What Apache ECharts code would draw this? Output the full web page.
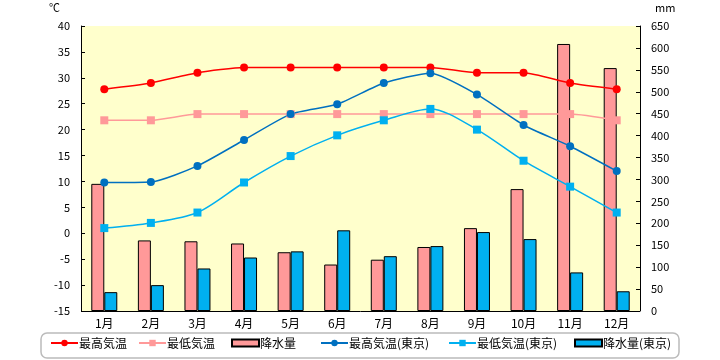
<!DOCTYPE html>
<html><head><meta charset="utf-8">
<script src="https://cdn.jsdelivr.net/npm/echarts@6/dist/echarts.min.js"></script>
<style>html,body{margin:0;padding:0;background:#fff}#c{width:720px;height:360px}</style>
</head><body><div id="c"></div>
<script>
const months = ['1月','2月','3月','4月','5月','6月','7月','8月','9月','10月','11月','12月'];
const highTemp = [27.8, 29, 31, 32, 32, 32, 32, 32, 31, 31, 29, 27.8];
const lowTemp = [21.8, 21.8, 23, 23, 23, 23, 23, 23, 23, 23, 23, 21.8];
const rain = [290, 161, 159, 154, 134, 106, 117, 146, 189, 278, 609, 554];
const highTokyo = [9.8, 9.9, 13, 18, 23, 24.9, 29, 30.9, 26.8, 20.9, 16.8, 12];
const lowTokyo = [1.0, 2.0, 4.0, 9.8, 14.9, 18.9, 21.8, 24, 20, 14, 9, 4];
const rainTokyo = [43, 59, 97, 122, 136, 184, 125, 148, 180, 164, 88, 45];
const names = ['最高気温','最低気温','降水量','最高気温(東京)','最低気温(東京)','降水量(東京)'];
const legendLeft = [50, 138, 231, 320, 448, 574];

const font = '"Noto Sans CJK JP", sans-serif';
const chart = echarts.init(document.getElementById('c'));
const legends = names.map((n, i) => ({
  data: [n], left: legendLeft[i], top: 337, padding: 0,
  itemWidth: 27, itemHeight: (i === 2 || i === 5) ? 7 : 8,
  icon: (i === 2 || i === 5) ? 'rect' : undefined,
  textStyle: {fontFamily: font, fontSize: 12, color: '#000', padding: [0, 0, 0, -4]}
}));
chart.setOption({
  animation: false,
  textStyle: {fontFamily: font},
  grid: {left: 81, right: 80, top: 26, bottom: 49, show: true, backgroundColor: '#FFFFCC', borderWidth: 0},
  graphic: [{type: 'rect', shape: {x: 41, y: 333, width: 638, height: 25, r: 6}, silent: true,
    style: {fill: 'none', stroke: '#bbbbbb', lineWidth: 1.5}}],
  legend: legends,
  xAxis: {
    type: 'category', data: months,
    axisLine: {show: false}, axisTick: {show: false},
    axisLabel: {color: '#000', fontSize: 12, margin: 6, fontFamily: font}
  },
  yAxis: [
    {type: 'value', min: -15, max: 40, interval: 5, name: '℃', nameLocation: 'end', nameGap: 13,
     nameTextStyle: {color: '#000', fontSize: 11, align: 'right', padding: [0, 21, 0, 0]},
     axisLine: {show: true, lineStyle: {color: '#000'}}, axisTick: {show: true, inside: true, length: 4, lineStyle: {color: '#000'}},
     splitLine: {show: false}, axisLabel: {color: '#000', fontSize: 11, margin: 11}},
    {type: 'value', min: 0, max: 650, interval: 50, name: 'mm', nameLocation: 'end', nameGap: 13,
     nameTextStyle: {color: '#000', fontSize: 11, align: 'left', padding: [0, 0, 0, 15]},
     axisLine: {show: true, lineStyle: {color: '#000'}}, axisTick: {show: true, inside: true, length: 4, lineStyle: {color: '#000'}},
     splitLine: {show: false}, axisLabel: {color: '#000', fontSize: 11, margin: 11}}
  ],
  series: [
    {name: names[2], type: 'bar', yAxisIndex: 1, data: rain, barWidth: 13, barGap: '0%',
     itemStyle: {color: '#FF9999', borderColor: '#000', borderWidth: 1},
     markLine: {silent: true, symbol: 'none', label: {show: false}, lineStyle: {color: '#000', type: 'solid', width: 1},
       data: [{yAxis: 0}]}},
    {name: names[5], type: 'bar', yAxisIndex: 1, data: rainTokyo, barWidth: 13, barGap: '0%',
     itemStyle: {color: '#00B0F0', borderColor: '#000', borderWidth: 1}},
    {name: names[0], type: 'line', data: highTemp, smooth: 0.2, symbol: 'circle', symbolSize: 8,
     lineStyle: {color: '#FF0000', width: 1.5}, itemStyle: {color: '#FF0000'}},
    {name: names[1], type: 'line', data: lowTemp, smooth: 0.2, symbol: 'rect', symbolSize: 8,
     lineStyle: {color: '#FF9999', width: 1.5}, itemStyle: {color: '#FF9999'}},
    {name: names[3], type: 'line', data: highTokyo, smooth: 0.2, symbol: 'circle', symbolSize: 8,
     lineStyle: {color: '#0070C0', width: 1.5}, itemStyle: {color: '#0070C0'}},
    {name: names[4], type: 'line', data: lowTokyo, smooth: 0.3, symbol: 'rect', symbolSize: 8,
     lineStyle: {color: '#00B0F0', width: 1.5}, itemStyle: {color: '#00B0F0'}}
  ]
});
</script></body></html>
